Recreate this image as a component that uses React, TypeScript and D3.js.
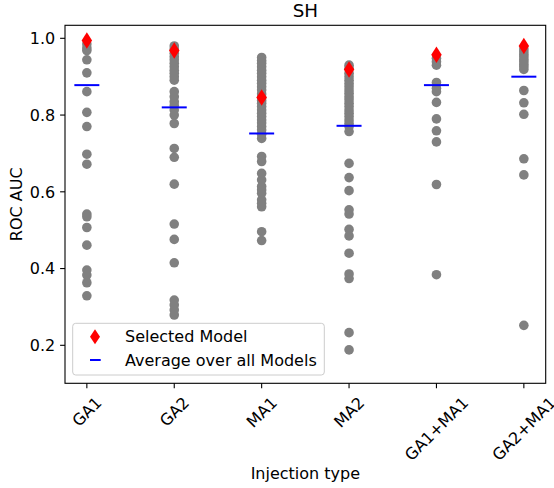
import React from "react";
import * as d3 from "d3";

const categories = ["GA1", "GA2", "MA1", "MA2", "GA1+MA1", "GA2+MA1"];

const ga1Points = [0.985, 0.975, 0.968, 0.944, 0.91, 0.861, 0.807, 0.77, 0.698, 0.672, 0.542, 0.535, 0.507, 0.461, 0.396, 0.383, 0.363, 0.329];
const ga2Points = [0.98, 0.972, 0.961, 0.952, 0.944, 0.935, 0.926, 0.917, 0.909, 0.9, 0.891, 0.861, 0.848, 0.835, 0.825, 0.813, 0.8, 0.778, 0.713, 0.69, 0.62, 0.516, 0.476, 0.415, 0.318, 0.305, 0.292, 0.279];
const ma1Points = [0.95, 0.942, 0.935, 0.926, 0.917, 0.909, 0.9, 0.891, 0.883, 0.874, 0.865, 0.855, 0.846, 0.838, 0.831, 0.822, 0.813, 0.805, 0.796, 0.787, 0.779, 0.77, 0.761, 0.75, 0.739, 0.692, 0.679, 0.648, 0.631, 0.614, 0.605, 0.596, 0.579, 0.57, 0.561, 0.496, 0.473];
const ma2Points = [0.93, 0.922, 0.909, 0.9, 0.891, 0.882, 0.874, 0.865, 0.857, 0.848, 0.84, 0.831, 0.822, 0.813, 0.805, 0.796, 0.787, 0.778, 0.77, 0.757, 0.674, 0.637, 0.603, 0.553, 0.542, 0.502, 0.485, 0.44, 0.386, 0.374, 0.233, 0.188];
const ga1ma1Points = [0.948, 0.939, 0.93, 0.885, 0.87, 0.861, 0.833, 0.79, 0.759, 0.73, 0.619, 0.384];
const ga2ma1Points = [0.972, 0.965, 0.958, 0.952, 0.945, 0.939, 0.932, 0.926, 0.919, 0.864, 0.832, 0.802, 0.686, 0.644, 0.252];

const allPoints = [ga1Points, ga2Points, ma1Points, ma2Points, ga1ma1Points, ga2ma1Points];

const selectedModel = [0.994, 0.968, 0.846, 0.919, 0.957, 0.98];
const averageAll = [0.878, 0.82, 0.752, 0.772, 0.878, 0.9];

const yTicks = [0.2, 0.4, 0.6, 0.8, 1.0];

const W = 554;
const H = 488;
const left = 65;
const right = 545.7;
const top = 25.3;
const bottom = 383.3;
const FONT = "DejaVu Sans";
const FS = 16;

function measure(text: string, size: number): number {
  const c = document.createElement("canvas");
  const ctx = c.getContext("2d");
  if (!ctx) return text.length * size * 0.6;
  ctx.font = `${size}px "${FONT}"`;
  return ctx.measureText(text).width;
}

function diamondPath(cx: number, cy: number, h: number, w: number): string {
  return `M${cx},${cy - h / 2}L${cx + w / 2},${cy}L${cx},${cy + h / 2}L${cx - w / 2},${cy}Z`;
}

export default function App() {
  const x = d3.scaleLinear().domain([-0.25, categories.length - 0.75]).range([left, right]);
  const y = d3.scaleLinear().domain([0.101, 1.0339]).range([bottom, top]);

  const tickLen = 4.9;
  const pad = 4.9;
  const textH = FS * 1.164;

  return (
    <svg
      width={W}
      height={H}
      style={{ position: "absolute", left: 0, top: 0, background: "#fff" }}
      fontFamily={FONT}
    >
      <rect x={0} y={0} width={W} height={H} fill="#fff" />
      {/* points */}
      {allPoints.map((pts, i) =>
        pts.map((v, j) => (
          <circle key={`p${i}-${j}`} cx={x(i)} cy={y(v)} r={4.8} fill="#808080" />
        ))
      )}
      {/* averages */}
      {averageAll.map((v, i) => (
        <line key={`a${i}`} x1={x(i) - 12.5} x2={x(i) + 12.5} y1={y(v)} y2={y(v)} stroke="#0000ff" strokeWidth={2} />
      ))}
      {/* selected */}
      {selectedModel.map((v, i) => (
        <path key={`s${i}`} d={diamondPath(x(i), y(v), 16.5, 10.5)} fill="#ff0000" />
      ))}

      {/* spines */}
      <rect x={left} y={top} width={right - left} height={bottom - top} fill="none" stroke="#000" strokeWidth={1.1} />

      {/* y ticks */}
      {yTicks.map((t) => (
        <g key={`yt${t}`}>
          <line x1={left - tickLen} x2={left} y1={y(t)} y2={y(t)} stroke="#000" strokeWidth={1.1} />
          <text x={left - tickLen - pad} y={y(t)} dy="0.36em" textAnchor="end" fontSize={FS} fill="#000">
            {t.toFixed(1)}
          </text>
        </g>
      ))}

      {/* x ticks */}
      {categories.map((c, i) => {
        const w = measure(c, FS);
        const bb = (w + textH) * Math.SQRT1_2;
        const cy = bottom + tickLen + pad + bb / 2;
        return (
          <g key={`xt${c}`}>
            <line x1={x(i)} x2={x(i)} y1={bottom} y2={bottom + tickLen} stroke="#000" strokeWidth={1.1} />
            <text
              transform={`translate(${x(i)},${cy}) rotate(-45)`}
              textAnchor="middle"
              dy="0.36em"
              fontSize={FS}
              fill="#000"
            >
              {c}
            </text>
          </g>
        );
      })}

      {/* axis labels */}
      <text x={(left + right) / 2} y={479} textAnchor="middle" fontSize={FS} fill="#000">
        Injection type
      </text>
      <text transform={`translate(21.7,${(top + bottom) / 2}) rotate(-90)`} textAnchor="middle" fontSize={FS} fill="#000">
        ROC AUC
      </text>
      <text x={(left + right) / 2} y={17.3} textAnchor="middle" fontSize={18.3} fill="#000">
        SH
      </text>

      {/* legend */}
      <rect x={72.7} y={323.3} width={251.6} height={51.7} rx={3} ry={3} fill="#fff" fillOpacity={0.8} stroke="#cccccc" strokeWidth={1} />
      <path d={diamondPath(95, 336.7, 15, 10)} fill="#ff0000" />
      <text x={125} y={336.7} dy="0.36em" fontSize={FS} fill="#000">
        Selected Model
      </text>
      <line x1={90} x2={100.7} y1={360} y2={360} stroke="#0000ff" strokeWidth={2} />
      <text x={125} y={360} dy="0.36em" fontSize={FS} fill="#000">
        Average over all Models
      </text>
    </svg>
  );
}
